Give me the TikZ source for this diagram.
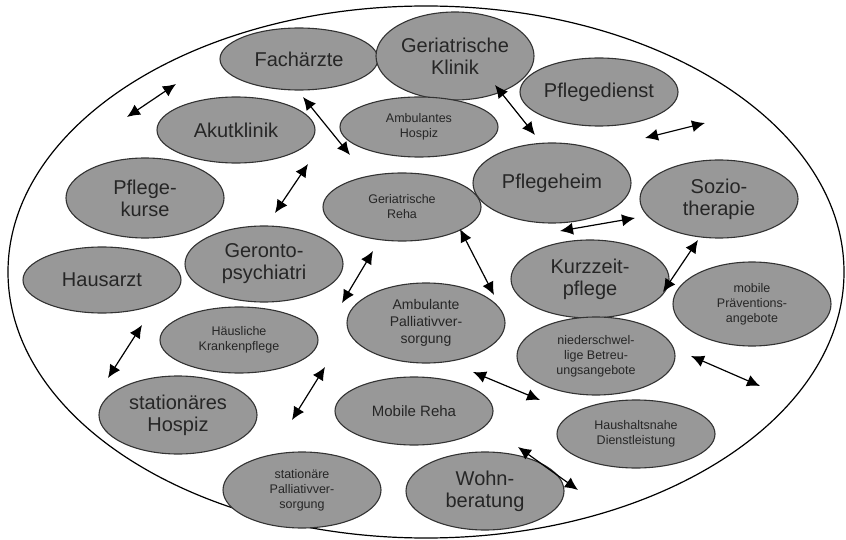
\documentclass[tikz,border=0pt]{standalone}
\usepackage{fontspec}
\setmainfont{Liberation Sans}
\usetikzlibrary{shapes.geometric,arrows.meta}
\definecolor{bubblegray}{RGB}{152,152,152}
\begin{document}
\begin{tikzpicture}[x=1pt,y=-1pt,
    bubble/.style={ellipse,draw=black!80,line width=1.1pt,fill=bubblegray,inner sep=0pt,align=center,minimum width=158pt},
    bigtext/.style={font=\fontsize{20}{22}\selectfont,text=black!85},
    midtext/.style={font=\fontsize{14}{17}\selectfont,text=black!85},
    smalltext/.style={font=\fontsize{12.5}{15}\selectfont,text=black!85},
    link/.style={{Latex[length=13pt,width=12pt]}-{Latex[length=13pt,width=12pt]},line width=1.2pt}]
      \useasboundingbox (0,0) rectangle (846,540);
      \draw[line width=1.2pt] (426,272) ellipse [x radius=418, y radius=266];
      % bubbles
      \node[bubble,bigtext,minimum height=62pt] (fach) at (299,59) {Fachärzte};
      \node[bubble,bigtext,minimum height=88pt] (klinik) at (455,56) {Geriatrische\\Klinik};
      \node[bubble,bigtext,minimum height=68pt] (dienst) at (599,92) {Pflegedienst};
      \node[bubble,bigtext,minimum height=66pt] (akut) at (236,130) {Akutklinik};
      \node[bubble,smalltext,minimum height=60pt] (hospizamb) at (419,127) {Ambulantes\\Hospiz};
      \node[bubble,bigtext,minimum height=80pt] (heim) at (552,183) {Pflegeheim};
      \node[bubble,bigtext,minimum height=78pt] (sozio) at (719,199) {Sozio-\\therapie};
      \node[bubble,bigtext,minimum height=80pt] (kurse) at (145,198) {Pflege-\\kurse};
      \node[bubble,smalltext,minimum height=68pt] (reha) at (402,207) {Geriatrische\\Reha};
      \node[bubble,bigtext,minimum height=76pt] (geronto) at (264,264) {Geronto-\\psychiatri};
      \node[bubble,bigtext,minimum height=66pt] (hausarzt) at (102,280) {Hausarzt};
      \node[bubble,bigtext,minimum height=78pt] (kurzzeit) at (590,279) {Kurzzeit-\\pflege};
      \node[bubble,smalltext,minimum height=84pt] (praev) at (752,304) {mobile\\Präventions-\\angebote};
      \node[bubble,smalltext,minimum height=66pt] (kranken) at (239,340) {Häusliche\\Krankenpflege};
      \node[bubble,midtext,minimum height=80pt] (palamb) at (426,323) {Ambulante\\Palliativver-\\sorgung};
      \node[bubble,smalltext,minimum height=78pt] (nieder) at (596,356) {niederschwel-\\lige Betreu-\\ungsangebote};
      \node[bubble,bigtext,minimum height=78pt] (hospizstat) at (178,415) {stationäres\\Hospiz};
      \node[bubble,font=\fontsize{15}{18}\selectfont,text=black!85,minimum height=68pt] (mobreha) at (414,411) {Mobile Reha};
      \node[bubble,smalltext,minimum height=68pt] (haushalt) at (636,434) {Haushaltsnahe\\Dienstleistung};
      \node[bubble,smalltext,minimum height=76pt] (palstat) at (302,490) {stationäre\\Palliativver-\\sorgung};
      \node[bubble,bigtext,minimum height=78pt] (wohn) at (485,491) {Wohn-\\beratung};
      % arrow ends
      \coordinate (a1) at (127,117);  \coordinate (b1) at (176,84);
      \coordinate (a2) at (303,97);   \coordinate (b2) at (350,155);
      \coordinate (a3) at (275,213);  \coordinate (b3) at (308,164);
      \coordinate (a4) at (495,85);   \coordinate (b4) at (535,135);
      \coordinate (a5) at (645,138);  \coordinate (b5) at (705,123);
      \coordinate (a6) at (560,231);  \coordinate (b6) at (635,218);
      \coordinate (a7) at (460,229);  \coordinate (b7) at (494,295);
      \coordinate (a8) at (698,240);  \coordinate (b8) at (663,292);
      \coordinate (a9) at (373,251);  \coordinate (b9) at (342,303);
      \coordinate (a10) at (142,325); \coordinate (b10) at (108,378);
      \coordinate (a11) at (325,367); \coordinate (b11) at (292,420);
      \coordinate (a12) at (473,372); \coordinate (b12) at (540,400);
      \coordinate (a13) at (691,356); \coordinate (b13) at (760,386);
      \coordinate (a14) at (518,447); \coordinate (b14) at (578,490);
      \foreach \i in {1,...,14}
        \draw[link] (a\i) -- (b\i);
    \end{tikzpicture}
\end{document}
